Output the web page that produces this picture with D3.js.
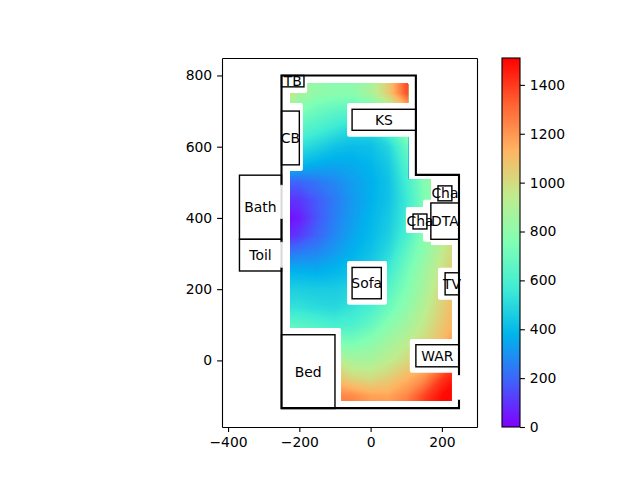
<!DOCTYPE html>
<html>
<head>
<meta charset="utf-8">
<script src="https://cdnjs.cloudflare.com/ajax/libs/d3/7.8.5/d3.min.js"></script>
<style>
  body { margin: 0; background: #fff; }
  text { font-family: "DejaVu Sans", sans-serif; font-size: 13.9px; fill: #000; }
  .domain, .tick line { stroke: #000; stroke-width: 1.1px; }
</style>
</head>
<body>
<svg id="chart" width="640" height="480"></svg>
<script>
// heat values, one row per y, one column per x
var gridX = [-250, -200, -150, -100, -50, 0, 50, 100, 150, 200, 250];
var gridY = [800, 750, 700, 650, 600, 550, 500, 450, 400, 350, 300, 250, 200, 150, 100, 50, 0, -50, -100, -150];
var heatRows = [
  [1050, 860, 820, 800, 810, 880, 1060, 1380, 1500, 1500, 1500],
  [1080, 880, 810, 790, 790, 880, 1060, 1350, 1450, 1450, 1450],
  [900, 760, 700, 660, 640, 700, 850, 1050, 1200, 1200, 1200],
  [750, 650, 600, 550, 500, 500, 620, 850, 1000, 1000, 1000],
  [600, 530, 480, 430, 410, 420, 490, 680, 900, 950, 1000],
  [450, 400, 370, 350, 360, 390, 450, 620, 850, 900, 1000],
  [200, 200, 240, 280, 330, 370, 430, 580, 760, 900, 1000],
  [90, 110, 180, 250, 320, 375, 430, 560, 750, 880, 1000],
  [0, 60, 170, 260, 330, 390, 450, 570, 760, 900, 1000],
  [60, 120, 200, 280, 350, 400, 470, 600, 780, 920, 1040],
  [240, 260, 280, 330, 380, 430, 510, 670, 800, 950, 1090],
  [380, 380, 370, 390, 420, 470, 570, 720, 850, 980, 1120],
  [470, 470, 460, 460, 490, 540, 640, 760, 880, 1010, 1150],
  [530, 530, 510, 500, 540, 600, 700, 800, 920, 1040, 1170],
  [680, 650, 620, 590, 610, 680, 780, 860, 960, 1070, 1190],
  [800, 780, 760, 750, 740, 790, 860, 930, 1010, 1110, 1300],
  [950, 950, 950, 950, 880, 880, 940, 1010, 1070, 1200, 1400],
  [1100, 1100, 1100, 1100, 1020, 1000, 1050, 1130, 1220, 1400, 1500],
  [1250, 1250, 1250, 1250, 1230, 1180, 1170, 1240, 1380, 1490, 1510],
  [1300, 1300, 1300, 1300, 1300, 1240, 1240, 1300, 1450, 1510, 1510]
];

// floor plan, in plan units: [name, x0, x1, y0, y1]
var rooms = [
  ["TB", -250, -187, 768, 800],
  ["CB", -250, -200, 549, 700],
  ["KS", -52, 127, 646, 705],
  ["Bath", -368, -250, 340, 520],
  ["Toil", -368, -250, 251, 340],
  ["Bed", -250, -100, -135, 72],
  ["Sofa", -52, 30, 173, 261],
  ["Cha", 189, 228, 448, 490],
  ["Cha", 119, 158, 369, 411],
  ["DTA", 169, 248, 340, 442],
  ["TV", 209, 248, 184, 246],
  ["WAR", 127, 248, -18, 44]
];
// white blocks around furniture where the heat has no values
var blocked = [
  [-270, -178, 751, 810],
  [-270, -190, 532, 723],
  [-66, 140, 628, 723],
  [-66, 46, 156, 279],
  [147, 260, 333, 451],
  [99, 160, 358, 431],
  [189, 260, 170, 260],
  [110, 260, -35, 60],
  [-270, -83, -150, 91]
];
var heatOutline = [[-226, 777], [105, 777], [105, 507], [169, 507], [169, 324], [226, 324], [226, -114], [-226, -114]];
var wallLines = [
  [[-250, 397], [-250, 333]],
  [[-250, 260], [-250, -134], [248, -134], [248, -111]],
  [[248, -41], [248, 521], [127, 521], [127, 800], [-250, 800], [-250, 493]]
];
var doorLines = [
  [[-250, 493], [-250, 397]],
  [[-250, 333], [-250, 260]],
  [[248, -41], [248, -111]]
];

var xTicks = [-400, -200, 0, 200];
var yTicks = [0, 200, 400, 600, 800];
var barTicks = [0, 200, 400, 600, 800, 1000, 1200, 1400];
var barMax = 1510;
// matplotlib rainbow sampled at even steps
var rainbowStops = ["#8000ff", "#4062fa", "#00b4ec", "#40ecd4", "#80ffb4", "#bfec8e", "#ffb462", "#ff6232", "#ff0000"];

var svg = d3.select("#chart");

var x = d3.scaleLinear().domain([-417, 298.5]).range([222, 477]);
var y = d3.scaleLinear().domain([-187, 849]).range([427, 58]);
var barY = d3.scaleLinear().domain([0, barMax]).range([427, 58]);

var rainbow = d3.scaleLinear()
  .domain(rainbowStops.map((c, i) => i / (rainbowStops.length - 1) * barMax))
  .range(rainbowStops)
  .interpolate(d3.interpolateRgb);

// the heat field as filled contours, clipped to the covered part of the flat
var defs = svg.append("defs");
var line = d3.line().x(d => x(d[0])).y(d => y(d[1]));
defs.append("clipPath").attr("id", "heatClip")
  .append("path").attr("d", line(heatOutline) + "Z");

var contours = d3.contours()
  .size([gridX.length, gridY.length])
  .thresholds(d3.range(0, barMax + 1, 8))(heatRows.flat());

var gridToScreen = d3.geoTransform({
  point: function(gx, gy) {
    var dx = gridX[0] + (gx - 0.5) * (gridX[1] - gridX[0]);
    var dy = gridY[0] + (gy - 0.5) * (gridY[1] - gridY[0]);
    this.stream.point(x(dx), y(dy));
  }
});
svg.append("g").attr("clip-path", "url(#heatClip)")
  .selectAll("path")
  .data(contours)
  .enter()
  .append("path")
  .attr("d", d3.geoPath(gridToScreen))
  .attr("fill", d => rainbow(d.value));

svg.append("g").selectAll("rect")
  .data(blocked)
  .enter()
  .append("rect")
  .attr("x", d => x(d[0]))
  .attr("width", d => x(d[1]) - x(d[0]))
  .attr("y", d => y(d[3]))
  .attr("height", d => y(d[2]) - y(d[3]))
  .attr("rx", 2)
  .attr("fill", "#fff");

// walls
svg.append("g").selectAll("path")
  .data(wallLines)
  .enter()
  .append("path")
  .attr("d", line)
  .attr("fill", "none")
  .attr("stroke", "#000")
  .attr("stroke-width", 2.1)
  .attr("stroke-linecap", "square");

// rooms and furniture
svg.append("g").selectAll("rect")
  .data(rooms)
  .enter()
  .append("rect")
  .attr("x", d => x(d[1]))
  .attr("width", d => x(d[2]) - x(d[1]))
  .attr("y", d => y(d[4]))
  .attr("height", d => y(d[3]) - y(d[4]))
  .attr("fill", "none")
  .attr("stroke", "#000")
  .attr("stroke-width", 1.4);

// door openings paint over the wall and room edges
svg.append("g").selectAll("path")
  .data(doorLines)
  .enter()
  .append("path")
  .attr("d", line)
  .attr("fill", "none")
  .attr("stroke", "#fff")
  .attr("stroke-opacity", 0.85)
  .attr("stroke-width", 2.4);

svg.append("g").selectAll("text")
  .data(rooms)
  .enter()
  .append("text")
  .attr("x", d => x((d[1] + d[2]) / 2))
  .attr("y", d => y((d[3] + d[4]) / 2))
  .attr("dy", "0.36em")
  .attr("text-anchor", "middle")
  .text(d => d[0]);

// axes
var fmt = d3.format("d");
svg.append("g").attr("transform", "translate(0,427)")
  .call(d3.axisBottom(x).tickValues(xTicks).tickFormat(fmt).tickSize(4.9).tickSizeOuter(0).tickPadding(4.9));
svg.append("g").attr("transform", "translate(222,0)")
  .call(d3.axisLeft(y).tickValues(yTicks).tickFormat(fmt).tickSize(4.9).tickSizeOuter(0).tickPadding(4.9));
svg.append("g").attr("transform", "translate(477,0)")
  .call(d3.axisRight(y).tickValues([]).tickSizeOuter(0));
svg.append("g").attr("transform", "translate(0,58)")
  .call(d3.axisTop(x).tickValues([]).tickSizeOuter(0));

// colorbar
var gradient = defs.append("linearGradient").attr("id", "barGradient")
  .attr("x1", 0).attr("y1", 1).attr("x2", 0).attr("y2", 0);
gradient.selectAll("stop")
  .data(rainbowStops)
  .enter()
  .append("stop")
  .attr("offset", (d, i) => i / (rainbowStops.length - 1))
  .attr("stop-color", d => d);

svg.append("rect")
  .attr("x", 502).attr("width", 18)
  .attr("y", barY(barMax)).attr("height", barY(0) - barY(barMax))
  .attr("fill", "url(#barGradient)")
  .attr("stroke", "#000")
  .attr("stroke-width", 1.1);

svg.append("g").attr("transform", "translate(520,0)")
  .call(d3.axisRight(barY).tickValues(barTicks).tickFormat(fmt).tickSize(4.9).tickSizeOuter(0).tickPadding(4.9))
  .select(".domain").remove();

svg.selectAll(".tick text").style("font-size", "13.9px").style("font-family", '"DejaVu Sans", sans-serif');
</script>
</body>
</html>
